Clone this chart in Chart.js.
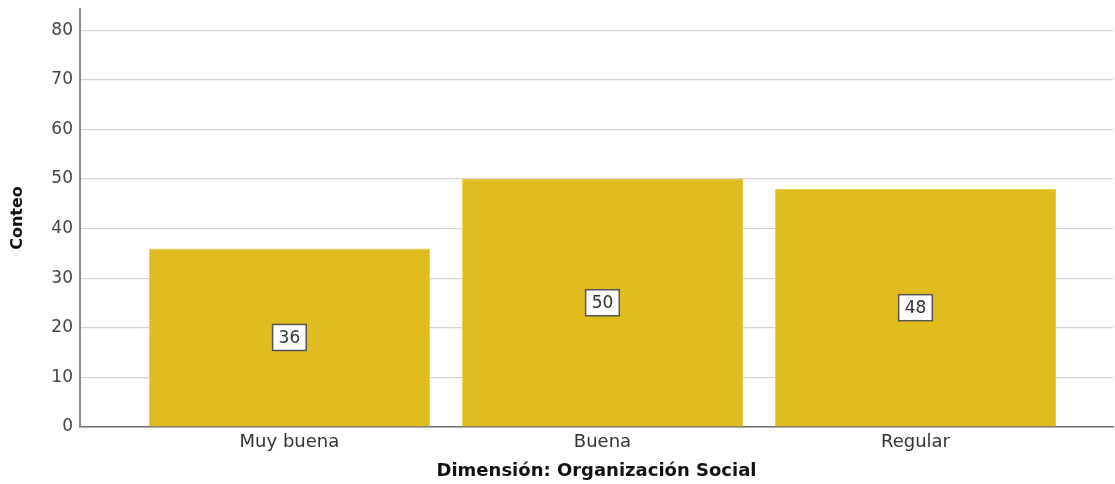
<!DOCTYPE html>
<html>
<head>
<meta charset="utf-8">
<script src="https://cdn.jsdelivr.net/npm/chart.js@4/dist/chart.umd.min.js"></script>
<style>
  html, body { margin: 0; padding: 0; background: #fff; }
  #wrap { width: 1115px; height: 484px; }
</style>
</head>
<body>
<div id="wrap"><canvas id="chart"></canvas></div>
<script>
// Datos
const categorias = ["Muy buena", "Buena", "Regular"];
const conteos = [36, 50, 48];
const ticksY = [0, 10, 20, 30, 40, 50, 60, 70, 80];

const COLOR_BARRA = "#e0bc1f";

// Etiquetas con recuadro blanco en el centro de cada barra
const etiquetasCentro = {
    id: "etiquetasCentro",
    afterDatasetsDraw(chart) {
        const ctx = chart.ctx;
        const meta = chart.getDatasetMeta(0);
        ctx.save();
        ctx.font = "17px 'DejaVu Sans', sans-serif";
        ctx.textAlign = "center";
        ctx.textBaseline = "middle";
        meta.data.forEach((bar, i) => {
            const texto = String(conteos[i]);
            const cx = bar.x;
            const cy = (bar.y + bar.base) / 2;
            const w = ctx.measureText(texto).width + 12;
            const h = 26;
            ctx.fillStyle = "#ffffff";
            ctx.fillRect(cx - w / 2, cy - h / 2, w, h);
            ctx.strokeStyle = "#555555";
            ctx.lineWidth = 1.5;
            ctx.strokeRect(cx - w / 2, cy - h / 2, w, h);
            ctx.fillStyle = "#333333";
            ctx.fillText(texto, cx, cy + 1);
        });
        ctx.restore();
    },
};

const ctx = document.getElementById("chart").getContext("2d");
new Chart(ctx, {
    type: "bar",
    plugins: [etiquetasCentro],
    data: {
        datasets: [
            {
                data: conteos.map((v, i) => ({ x: i, y: v })),
                backgroundColor: COLOR_BARRA,
                borderColor: "#e8cb55",
                borderWidth: 1,
                categoryPercentage: 1,
                barPercentage: 0.898,
            },
        ],
    },
    options: {
        responsive: true,
        maintainAspectRatio: false,
        animation: false,
        layout: { padding: { top: 9, right: 2, left: 0, bottom: 0 } },
        plugins: {
            legend: { display: false },
            tooltip: { enabled: false },
        },
        scales: {
            x: {
                type: "linear",
                offset: false,
                min: -0.669,
                max: 2.631,
                afterBuildTicks: (scale) => {
                    scale.ticks = categorias.map((c, i) => ({ value: i }));
                },
                afterFit: (scale) => {
                    scale.height = 57;
                    scale.paddingLeft = 0;
                    scale.paddingRight = 0;
                },
                grid: { display: false, drawTicks: false, offset: false },
                border: { display: true, color: "#6e6e6e", width: 1.5 },
                ticks: {
                    autoSkip: false,
                    maxRotation: 0,
                    padding: 5,
                    color: "#333333",
                    font: { size: 18, family: "'DejaVu Sans', sans-serif" },
                    callback: (value) => categorias[value] ?? "",
                },
                title: {
                    display: true,
                    text: "Dimensión: Organización Social",
                    color: "#111111",
                    padding: 2,
                    font: { size: 18, weight: "bold", family: "'DejaVu Sans', sans-serif" },
                },
            },
            y: {
                min: 0,
                max: 84.3,
                afterBuildTicks: (scale) => {
                    scale.ticks = ticksY.map((v) => ({ value: v }));
                },
                afterFit: (scale) => {
                    scale.width = 80;
                    scale.paddingTop = 0;
                    scale.paddingBottom = 0;
                },
                grid: { color: "#d3d3d3", lineWidth: 1.2, drawTicks: false },
                border: { display: true, color: "#8a8a8a", width: 2 },
                ticks: {
                    padding: 7,
                    color: "#444444",
                    font: { size: 17, family: "'DejaVu Sans', sans-serif" },
                },
                title: {
                    display: true,
                    text: "Conteo",
                    color: "#111111",
                    padding: 8,
                    font: { size: 16, weight: "bold", family: "'DejaVu Sans', sans-serif" },
                },
            },
        },
    },
});
</script>
</body>
</html>
